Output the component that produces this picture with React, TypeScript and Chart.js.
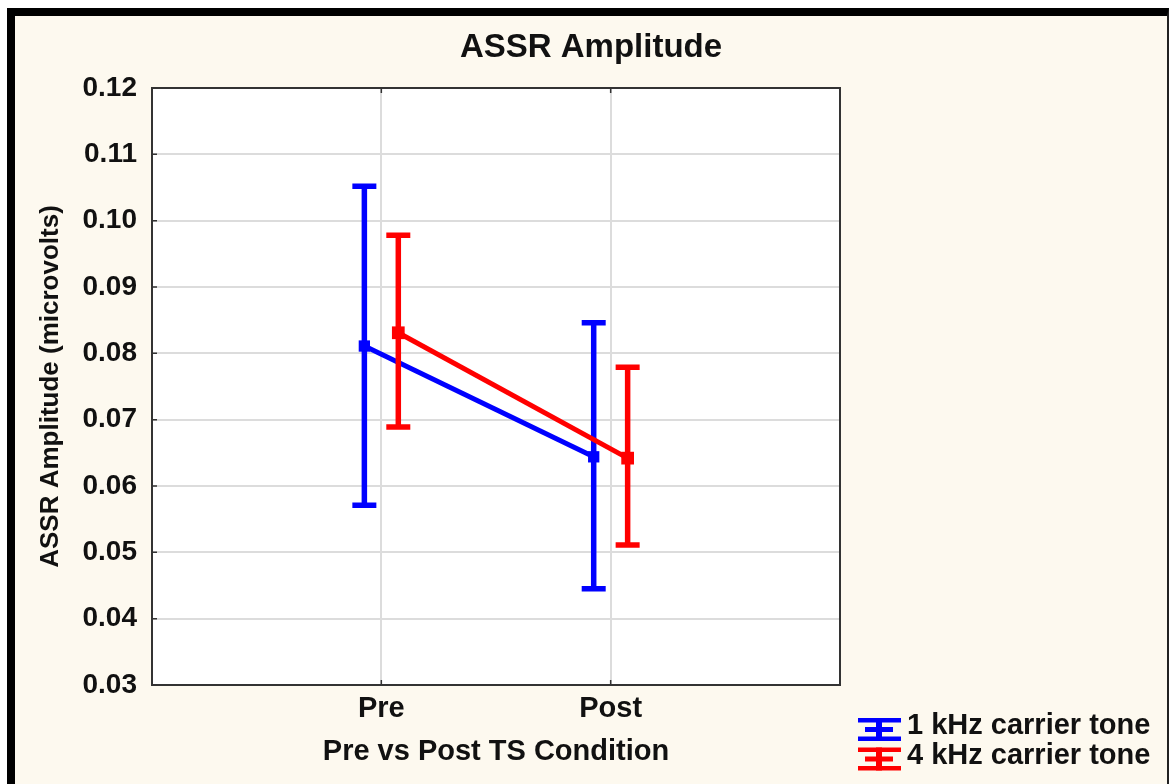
import { useEffect, useRef } from 'react';
import { Chart, registerables } from 'chart.js';

Chart.register(...registerables);

// ---- data ----
const categories = ['Pre', 'Post'];
const seriesNames = ['1 kHz carrier tone', '4 kHz carrier tone'];
const mean1k = [0.0811, 0.0644];
const upper1k = [0.1052, 0.0846];
const lower1k = [0.0571, 0.0445];
const mean4k = [0.0831, 0.0642];
const upper4k = [0.0978, 0.0779];
const lower4k = [0.0689, 0.0511];
const yTicks = [0.03, 0.04, 0.05, 0.06, 0.07, 0.08, 0.09, 0.1, 0.11, 0.12];

const chartTitle = 'ASSR Amplitude';
const xTitle = 'Pre vs Post TS Condition';
const yTitle = 'ASSR Amplitude (microvolts)';

// ---- style ----
const FONT = '"Liberation Sans", Arial, sans-serif';
const BLUE = '#0000ff';
const RED = '#ff0000';
const DODGE = 0.074;
const seriesColors = [BLUE, RED];
const uppers = [upper1k, upper4k];
const lowers = [lower1k, lower4k];

const bgPlugin = {
  id: 'plotBg',
  beforeDraw(chart: any) {
    const { ctx, chartArea: a } = chart;
    ctx.save();
    ctx.fillStyle = '#ffffff';
    ctx.fillRect(a.left, a.top, a.right - a.left, a.bottom - a.top);
    ctx.restore();
  },
};

const errorBarPlugin = {
  id: 'errorBars',
  afterDatasetDraw(chart: any, args: any) {
    const idx = args.index;
    const ds = chart.data.datasets[idx];
    const si = ds.seriesIndex;
    const { ctx } = chart;
    const xs = chart.scales.x;
    const ys = chart.scales.y;
    ctx.save();
    ctx.strokeStyle = seriesColors[si];
    ctx.lineWidth = 5.5;
    ctx.lineCap = 'butt';
    ds.data.forEach((p: any, i: number) => {
      const px = xs.getPixelForValue(p.x);
      const yu = ys.getPixelForValue(uppers[si][i]);
      const yl = ys.getPixelForValue(lowers[si][i]);
      ctx.beginPath();
      ctx.moveTo(px, yu);
      ctx.lineTo(px, yl);
      ctx.moveTo(px - 12, yu);
      ctx.lineTo(px + 12, yu);
      ctx.moveTo(px - 12, yl);
      ctx.lineTo(px + 12, yl);
      ctx.stroke();
    });
    ctx.restore();
  },
};

const framePlugin = {
  id: 'frame',
  afterDraw(chart: any) {
    const { ctx, chartArea: a } = chart;
    const xs = chart.scales.x;
    const ys = chart.scales.y;
    ctx.save();
    ctx.strokeStyle = '#333333';
    ctx.lineWidth = 2;
    ctx.strokeRect(a.left, a.top, a.right - a.left, a.bottom - a.top);
    ctx.lineWidth = 1.5;
    ctx.beginPath();
    yTicks.forEach((v) => {
      const y = ys.getPixelForValue(v);
      ctx.moveTo(a.left, y);
      ctx.lineTo(a.left + 5, y);
    });
    categories.forEach((_, i) => {
      const x = xs.getPixelForValue(i + 1);
      ctx.moveTo(x, a.bottom);
      ctx.lineTo(x, a.bottom - 5);
      ctx.moveTo(x, a.top);
      ctx.lineTo(x, a.top + 5);
    });
    ctx.stroke();

    // title
    ctx.fillStyle = '#111111';
    ctx.font = `bold 33px ${FONT}`;
    ctx.textAlign = 'center';
    ctx.textBaseline = 'middle';
    ctx.fillText(chartTitle, chart.width / 2, 32);

    // legend
    const lx = a.right + 18;
    const rows = [713.5, 743];
    const textRows = [710, 740];
    seriesNames.forEach((name, i) => {
      const cy = rows[i];
      ctx.fillStyle = seriesColors[i];
      ctx.fillRect(lx, cy - 11.5, 43, 4.5);
      ctx.fillRect(lx + 7, cy - 2.5, 28, 5);
      ctx.fillRect(lx, cy + 7, 43, 4.5);
      ctx.fillRect(lx + 18, cy - 11.5, 6, 23);
      ctx.fillStyle = '#111111';
      ctx.font = `bold 29px ${FONT}`;
      ctx.textAlign = 'left';
      ctx.textBaseline = 'middle';
      ctx.fillText(name, lx + 49, textRows[i]);
    });
    ctx.restore();
  },
};

export default function App() {
  const ref = useRef<HTMLCanvasElement | null>(null);

  useEffect(() => {
    document.body.style.margin = '0';
    if (!ref.current) return;
    const mk = (si: number, means: number[], off: number, radius: number, order: number) => ({
      label: seriesNames[si],
      seriesIndex: si,
      order,
      data: categories.map((_, i) => ({ x: i + 1 + off, y: means[i] })),
      borderColor: seriesColors[si],
      backgroundColor: seriesColors[si],
      borderWidth: 5,
      pointStyle: 'rect',
      pointRadius: radius,
      pointBorderWidth: 0,
      pointBackgroundColor: seriesColors[si],
      tension: 0,
      fill: false,
    });
    const chart = new Chart(ref.current, {
      type: 'line',
      data: {
        datasets: [mk(0, mean1k, -DODGE, 8, 1), mk(1, mean4k, DODGE, 9, 0)] as any,
      },
      options: {
        responsive: false,
        animation: false,
        layout: { padding: { top: 72, right: 327, left: 0, bottom: 0 } },
        plugins: {
          legend: { display: false },
          title: { display: false },
          tooltip: { enabled: false },
        },
        scales: {
          x: {
            type: 'linear',
            min: 0,
            max: 3,
            afterBuildTicks: (s: any) => {
              s.ticks = categories.map((_, i) => ({ value: i + 1 }));
            },
            afterFit: (s: any) => {
              s.height = 99;
            },
            ticks: {
              callback: (v: any) => categories[Math.round(v) - 1],
              font: { family: FONT, size: 29, weight: 'bold' },
              color: '#111111',
              padding: 7,
              maxRotation: 0,
              autoSkip: false,
            },
            grid: { color: '#dcdcdc', lineWidth: 2, drawTicks: false },
            border: { display: false },
            title: {
              display: true,
              text: xTitle,
              color: '#111111',
              font: { family: FONT, size: 29, weight: 'bold' },
              padding: { top: 0, bottom: 15 },
            },
          },
          y: {
            type: 'linear',
            min: 0.03,
            max: 0.12,
            afterBuildTicks: (s: any) => {
              s.ticks = yTicks.map((v) => ({ value: v }));
            },
            afterFit: (s: any) => {
              s.width = 137;
            },
            ticks: {
              callback: (v: any) => Number(v).toFixed(2),
              font: { family: FONT, size: 28, weight: 'bold' },
              color: '#111111',
              padding: 15,
            },
            grid: { color: '#dcdcdc', lineWidth: 2, drawTicks: false },
            border: { display: false },
            title: {
              display: true,
              text: yTitle,
              color: '#111111',
              font: { family: FONT, size: 26, weight: 'bold' },
              padding: { top: 20, bottom: 0 },
            },
          },
        },
      } as any,
      plugins: [bgPlugin, errorBarPlugin, framePlugin],
    });
    return () => chart.destroy();
  }, []);

  return (
    <div
      style={{
        position: 'absolute',
        left: 7,
        top: 8,
        width: 1162,
        height: 776,
        boxSizing: 'border-box',
        borderTop: '8px solid #000',
        borderLeft: '8px solid #000',
        borderRight: '2px solid #222',
        background: '#fdf9ef',
      }}
    >
      <canvas ref={ref} width={1152} height={768} style={{ display: 'block' }} />
    </div>
  );
}
